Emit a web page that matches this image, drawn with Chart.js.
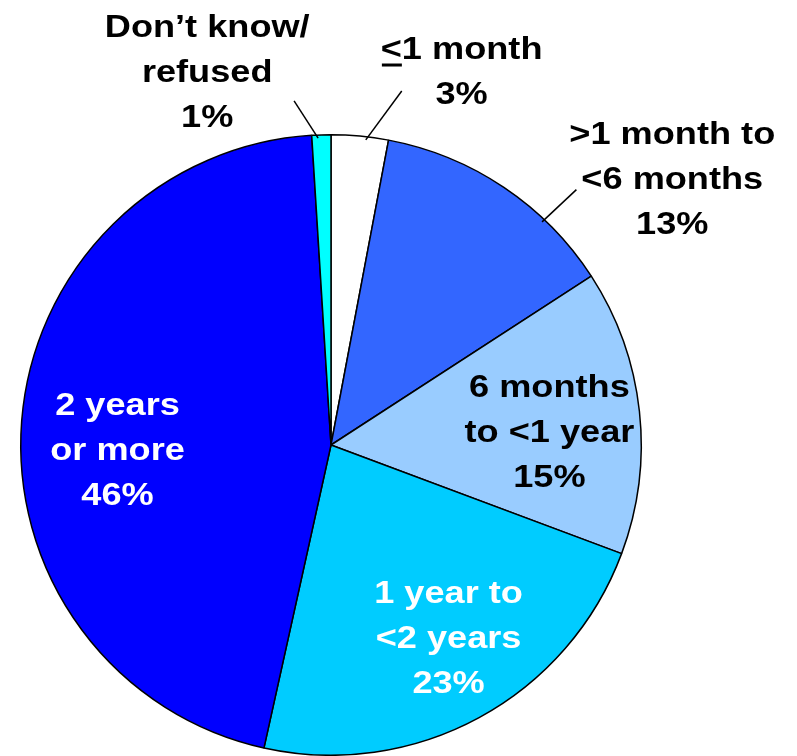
<!DOCTYPE html>
<html>
<head>
<meta charset="utf-8">
<script src="https://cdn.jsdelivr.net/npm/chart.js@4.4.1/dist/chart.umd.min.js"></script>
<style>
  html, body { margin: 0; padding: 0; background: #fff; }
  #wrap { width: 797px; height: 756px; position: relative; }
</style>
</head>
<body>
<div id="wrap"><canvas id="durationPie"></canvas></div>
<script>
// Slices go clockwise from 12 o'clock
const categories = [
  "<=1 month",
  ">1 month to <6 months",
  "6 months to <1 year",
  "1 year to <2 years",
  "2 years or more",
  "Don't know/refused"
];
const percents = [3, 13, 15, 23, 46, 1];
const labelLines = [
  ["<1 month"],
  [">1 month to", "<6 months"],
  ["6 months", "to <1 year"],
  ["1 year to", "<2 years"],
  ["2 years", "or more"],
  ["Don\u2019t know/", "refused"]
];
const sliceColors = ["#ffffff", "#3366ff", "#99ccff", "#00ccff", "#0000ff", "#00ffff"];
const textColors = ["#000", "#000", "#000", "#fff", "#fff", "#000"];

// label block centres and leader lines, in units of the pie radius from its centre
const labelPos = [
  { x: 0.421, y: -1.199, line: { angle: 6.5, ox: 0.228, oy: -1.141 }, underlineFirst: true },
  { x: 1.100, y: -0.852, line: { angle: 43.4, ox: 0.791, oy: -0.823 } },
  { x: 0.704, y: -0.039 },
  { x: 0.379, y: 0.627 },
  { x: -0.688, y: 0.019 },
  { x: -0.399, y: -1.199, line: { angle: -2.4, ox: -0.119, oy: -1.109 } }
];

const FONT = "bold 32px 'Liberation Sans', Arial, sans-serif";
const LINE_H = 45;
const STRETCH = 1.13; // labels are set a little wide

const pieLabels = {
  id: "pieLabels",
  afterDatasetsDraw(chart) {
    const ctx = chart.ctx;
    const arc = chart.getDatasetMeta(0).data[0];
    const cx = arc.x, cy = arc.y, r = arc.outerRadius;
    ctx.save();
    ctx.font = FONT;
    ctx.textAlign = "center";
    ctx.textBaseline = "middle";
    percents.forEach((v, i) => {
      const p = labelPos[i];
      const lines = labelLines[i].concat([v + "%"]);
      const bx = cx + p.x * r;
      const by = cy + p.y * r;
      const top = by - (lines.length - 1) * LINE_H / 2;
      ctx.fillStyle = textColors[i];
      ctx.save();
      ctx.translate(bx, 0);
      ctx.scale(STRETCH, 1);
      lines.forEach((t, k) => {
        ctx.fillText(t, 0, top + k * LINE_H);
      });
      if (p.underlineFirst) {
        // underline the "<" so it reads as "less than or equal"
        const w = ctx.measureText(lines[0]).width;
        const lw = ctx.measureText("<").width;
        ctx.fillRect(-w / 2 + 1, top + 13, lw - 1, 3);
      }
      ctx.restore();
      if (p.line) {
        const a = (p.line.angle - 90) * Math.PI / 180;
        ctx.strokeStyle = "#000";
        ctx.lineWidth = 1.5;
        ctx.beginPath();
        ctx.moveTo(cx + Math.cos(a) * r * 0.99, cy + Math.sin(a) * r * 0.99);
        ctx.lineTo(cx + p.line.ox * r, cy + p.line.oy * r);
        ctx.stroke();
      }
    });
    ctx.restore();
  }
};

new Chart(document.getElementById("durationPie"), {
  type: "pie",
  data: {
    labels: categories,
    datasets: [{
      data: percents,
      backgroundColor: sliceColors,
      borderColor: "#000",
      borderWidth: 1.5
    }]
  },
  options: {
    responsive: true,
    maintainAspectRatio: false,
    animation: false,
    layout: { padding: { left: 20, right: 155, top: 134, bottom: 0 } },
    plugins: {
      legend: { display: false },
      tooltip: { enabled: false }
    }
  },
  plugins: [pieLabels]
});
</script>
</body>
</html>
